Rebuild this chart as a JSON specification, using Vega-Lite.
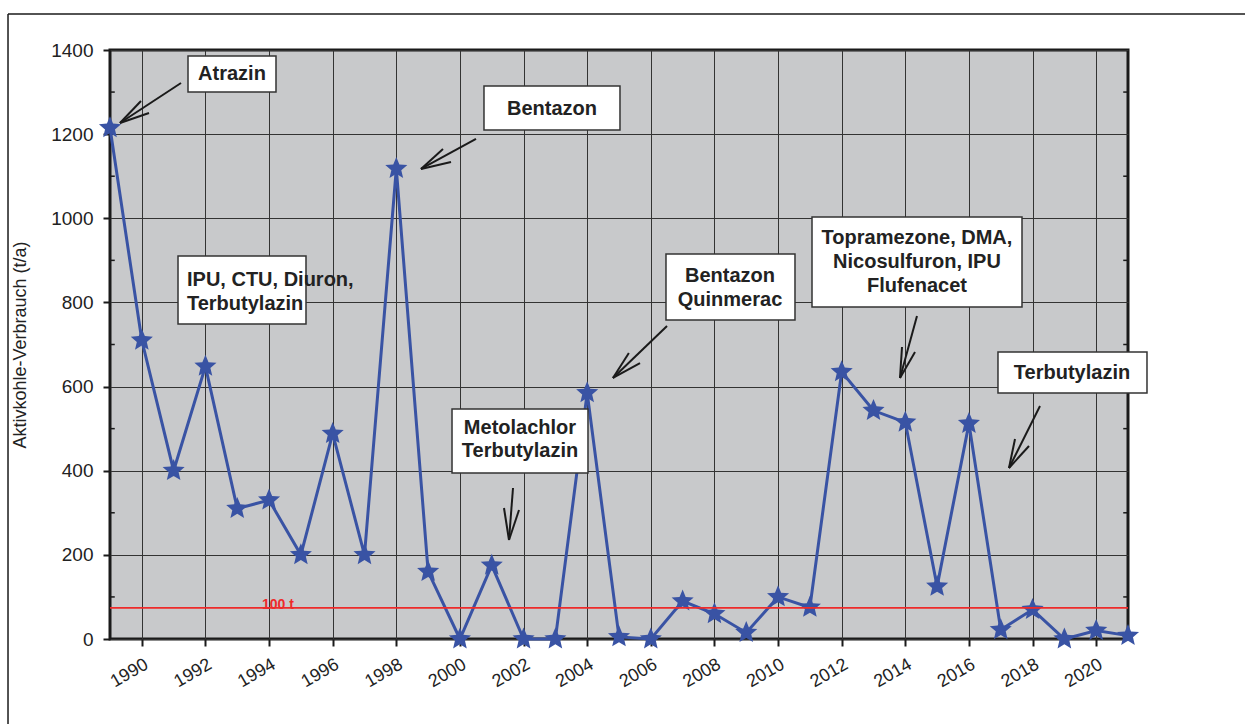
{
  "$schema": "https://vega.github.io/schema/vega-lite/v6.json",
  "width": 1018,
  "height": 589,
  "autosize": {"type": "none"},
  "padding": {"left": 110, "top": 50, "right": 117, "bottom": 85},
  "background": "white",
  "config": {
    "font": "Liberation Sans",
    "view": {"fill": "#c8c9cb", "stroke": "#1a1a1a", "strokeWidth": 3}
  },
  "datasets": {
    "series": [
      {"year": 1989, "value": 1215}, {"year": 1990, "value": 710}, {"year": 1991, "value": 400},
      {"year": 1992, "value": 648}, {"year": 1993, "value": 310}, {"year": 1994, "value": 330},
      {"year": 1995, "value": 200}, {"year": 1996, "value": 488}, {"year": 1997, "value": 200},
      {"year": 1998, "value": 1118}, {"year": 1999, "value": 160}, {"year": 2000, "value": 0},
      {"year": 2001, "value": 175}, {"year": 2002, "value": 0}, {"year": 2003, "value": 0},
      {"year": 2004, "value": 585}, {"year": 2005, "value": 5}, {"year": 2006, "value": 0},
      {"year": 2007, "value": 90}, {"year": 2008, "value": 60}, {"year": 2009, "value": 15},
      {"year": 2010, "value": 100}, {"year": 2011, "value": 75}, {"year": 2012, "value": 635},
      {"year": 2013, "value": 543}, {"year": 2014, "value": 515}, {"year": 2015, "value": 125},
      {"year": 2016, "value": 512}, {"year": 2017, "value": 22}, {"year": 2018, "value": 70},
      {"year": 2019, "value": 0}, {"year": 2020, "value": 20}, {"year": 2021, "value": 8}
    ],
    "minor": [{"value": 100}, {"value": 300}, {"value": 500}, {"value": 700}, {"value": 900}, {"value": 1100}, {"value": 1300}],
    "frame": [
      {"year": 1985.794, "year2": 1985.794, "value": 1485.6, "value2": -600},
      {"year": 1985.794, "year2": 2045, "value": 1485.6, "value2": 1485.6}
    ],
    "arrows": [
      {"year": 1991.232, "value": 1321.6, "year2": 1989.314, "value2": 1226.5},
      {"year": 1989.974, "value": 1278.7, "year2": 1989.314, "value2": 1226.5},
      {"year": 1990.226, "value": 1250.2, "year2": 1989.314, "value2": 1226.5},
      {"year": 2000.505, "value": 1188.5, "year2": 1998.776, "value2": 1117.2},
      {"year": 1999.467, "value": 1164.7, "year2": 1998.776, "value2": 1117.2},
      {"year": 1999.719, "value": 1133.8, "year2": 1998.776, "value2": 1117.2},
      {"year": 2006.51, "value": 744, "year2": 2004.81, "value2": 620.4},
      {"year": 2005.31, "value": 679.8, "year2": 2004.81, "value2": 620.4},
      {"year": 2005.66, "value": 656, "year2": 2004.81, "value2": 620.4},
      {"year": 2014.367, "value": 767.7, "year2": 2013.833, "value2": 620.4},
      {"year": 2013.896, "value": 694.1, "year2": 2013.833, "value2": 620.4},
      {"year": 2014.305, "value": 682.2, "year2": 2013.833, "value2": 620.4},
      {"year": 2018.234, "value": 553.8, "year2": 2017.259, "value2": 406.4},
      {"year": 2017.448, "value": 475.4, "year2": 2017.259, "value2": 406.4},
      {"year": 2017.888, "value": 458.7, "year2": 2017.259, "value2": 406.4},
      {"year": 2001.668, "value": 358.9, "year2": 2001.542, "value2": 235.3},
      {"year": 2001.385, "value": 311.4, "year2": 2001.542, "value2": 235.3},
      {"year": 2001.857, "value": 306.6, "year2": 2001.542, "value2": 235.3}
    ],
    "boxes": [
      {"year": 1991.452, "year2": 1994.218, "value": 1385.7, "value2": 1300.2},
      {"year": 2000.756, "year2": 2005.031, "value": 1314.4, "value2": 1209.8},
      {"year": 1991.138, "year2": 1995.161, "value": 910.4, "value2": 748.7},
      {"year": 2006.477, "year2": 2010.532, "value": 915.1, "value2": 758.2},
      {"year": 2011.067, "year2": 2017.668, "value": 1003.1, "value2": 789.1},
      {"year": 2016.913, "year2": 2021.597, "value": 682.2, "value2": 584.7},
      {"year": 1999.751, "year2": 2004.025, "value": 546.7, "value2": 394.6}
    ],
    "labels": [
      {"label": "Atrazin", "year": 1992.835, "value": 1343},
      {"label": "Bentazon", "year": 2002.894, "value": 1259.8},
      {"label": "Bentazon", "year": 2008.49, "value": 864},
      {"label": "Quinmerac", "year": 2008.49, "value": 805.8},
      {"label": "Topramezone, DMA,", "year": 2014.367, "value": 953.1},
      {"label": "Nicosulfuron, IPU", "year": 2014.367, "value": 896},
      {"label": "Flufenacet", "year": 2014.367, "value": 840.2},
      {"label": "Terbutylazin", "year": 2019.24, "value": 633.4},
      {"label": "Metolachlor", "year": 2001.888, "value": 501.5},
      {"label": "Terbutylazin", "year": 2001.888, "value": 445.7}
    ],
    "leftlabels": [
      {"label": "IPU, CTU, Diuron,", "year": 1991.42, "value": 853.3},
      {"label": "Terbutylazin", "year": 1991.42, "value": 796.3}
    ],
    "limit": [{"value": 74}],
    "limitlabel": [{"label": "100 t", "year": 1994.28, "value": 71}]
  },
  "layer": [
    {
      "data": {"name": "series"},
      "mark": {"type": "line", "color": "#3953a4", "strokeWidth": 3},
      "encoding": {
        "x": {
          "field": "year", "type": "quantitative",
          "scale": {"domain": [1989, 2021], "nice": false, "zero": false},
          "axis": {
            "values": [1990, 1992, 1994, 1996, 1998, 2000, 2002, 2004, 2006, 2008, 2010, 2012, 2014, 2016, 2018, 2020],
            "format": "d", "labelAngle": -30, "labelAlign": "right", "labelBaseline": "top",
            "labelFontSize": 18, "labelColor": "#222", "labelPadding": 9, "labelOverlap": false, "labelFlush": false,
            "tickSize": 7, "tickWidth": 2, "tickColor": "#1a1a1a", "domain": false,
            "grid": true, "gridColor": "#333", "gridWidth": 1, "title": null
          }
        },
        "y": {
          "field": "value", "type": "quantitative",
          "scale": {"domain": [0, 1400], "nice": false},
          "axis": {
            "values": [0, 200, 400, 600, 800, 1000, 1200, 1400],
            "format": "d",
            "labelFontSize": 19, "labelColor": "#222", "labelPadding": 10,
            "tickSize": 7, "tickWidth": 2, "tickColor": "#1a1a1a", "domain": false,
            "grid": true, "gridColor": "#333", "gridWidth": 1,
            "title": "Aktivkohle-Verbrauch (t/a)", "titleFontSize": 18, "titleFontWeight": "normal",
            "titleColor": "#222", "titlePadding": 21
          }
        }
      }
    },
    {
      "data": {"name": "series"},
      "mark": {"type": "point", "shape": "M0,-1L0.2645,-0.364L0.951,-0.309L0.428,0.139L0.588,0.809L0,0.45L-0.588,0.809L-0.428,0.139L-0.951,-0.309L-0.2645,-0.364Z", "filled": true, "size": 540, "color": "#3953a4", "opacity": 1, "strokeWidth": 0},
      "encoding": {
        "x": {"field": "year", "type": "quantitative"},
        "y": {"field": "value", "type": "quantitative"}
      }
    },
    {
      "data": {"name": "frame"},
      "mark": {"type": "rule", "color": "#1a1a1a", "strokeWidth": 1.5},
      "encoding": {
        "x": {"field": "year", "type": "quantitative"},
        "x2": {"field": "year2"},
        "y": {"field": "value", "type": "quantitative"},
        "y2": {"field": "value2"}
      }
    },
    {
      "data": {"name": "minor"},
      "mark": {"type": "rule", "color": "#1a1a1a", "strokeWidth": 1.5},
      "encoding": {
        "x": {"datum": 1989, "type": "quantitative"},
        "x2": {"datum": 1989.15},
        "y": {"field": "value", "type": "quantitative"}
      }
    },
    {
      "data": {"name": "minor"},
      "mark": {"type": "rule", "color": "#1a1a1a", "strokeWidth": 1.5},
      "encoding": {
        "x": {"datum": 2020.85, "type": "quantitative"},
        "x2": {"datum": 2021},
        "y": {"field": "value", "type": "quantitative"}
      }
    },
    {
      "data": {"name": "limit"},
      "mark": {"type": "rule", "color": "#ee2a2a", "strokeWidth": 1.8},
      "encoding": {
        "x": {"datum": 1989, "type": "quantitative"},
        "x2": {"datum": 2021},
        "y": {"field": "value", "type": "quantitative"}
      }
    },
    {
      "data": {"name": "limitlabel"},
      "mark": {"type": "text", "color": "#ee2a2a", "fontSize": 14, "fontWeight": "bold", "baseline": "alphabetic", "align": "center"},
      "encoding": {
        "x": {"field": "year", "type": "quantitative"},
        "y": {"field": "value", "type": "quantitative"},
        "text": {"field": "label"}
      }
    },
    {
      "data": {"name": "arrows"},
      "mark": {"type": "rule", "color": "#1a1a1a", "strokeWidth": 2},
      "encoding": {
        "x": {"field": "year", "type": "quantitative"},
        "x2": {"field": "year2"},
        "y": {"field": "value", "type": "quantitative"},
        "y2": {"field": "value2"}
      }
    },
    {
      "data": {"name": "boxes"},
      "mark": {"type": "rect", "fill": "white", "stroke": "#333", "strokeWidth": 1.5},
      "encoding": {
        "x": {"field": "year", "type": "quantitative"},
        "x2": {"field": "year2"},
        "y": {"field": "value", "type": "quantitative"},
        "y2": {"field": "value2"}
      }
    },
    {
      "data": {"name": "labels"},
      "mark": {"type": "text", "fontSize": 20, "fontWeight": "bold", "color": "#222", "align": "center", "baseline": "middle"},
      "encoding": {
        "x": {"field": "year", "type": "quantitative"},
        "y": {"field": "value", "type": "quantitative"},
        "text": {"field": "label"}
      }
    },
    {
      "data": {"name": "leftlabels"},
      "mark": {"type": "text", "fontSize": 20, "fontWeight": "bold", "color": "#222", "align": "left", "baseline": "middle"},
      "encoding": {
        "x": {"field": "year", "type": "quantitative"},
        "y": {"field": "value", "type": "quantitative"},
        "text": {"field": "label"}
      }
    }
  ]
}
